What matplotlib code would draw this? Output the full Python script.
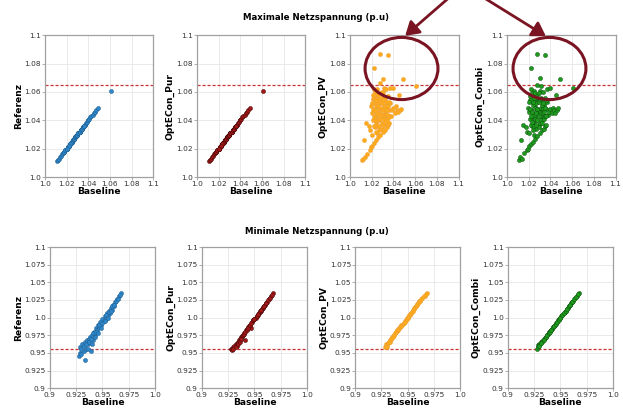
import matplotlib
matplotlib.use("Agg")
import matplotlib.pyplot as plt
from matplotlib.patches import Ellipse, FancyArrowPatch

# ---- maximale Netzspannung ----
base_max = [1.011, 1.012, 1.013, 1.014, 1.015, 1.016, 1.017, 1.018, 1.018, 1.019,
            1.019, 1.020, 1.020, 1.021, 1.021, 1.022, 1.022, 1.022, 1.022, 1.023,
            1.023, 1.023, 1.024, 1.024, 1.024, 1.024, 1.025, 1.025, 1.025, 1.025,
            1.026, 1.026, 1.026, 1.026, 1.027, 1.027, 1.027, 1.027, 1.028, 1.028,
            1.028, 1.028, 1.028, 1.029, 1.029, 1.029, 1.029, 1.030, 1.030, 1.030,
            1.030, 1.031, 1.031, 1.031, 1.032, 1.032, 1.032, 1.033, 1.033, 1.033,
            1.034, 1.034, 1.034, 1.035, 1.035, 1.035, 1.036, 1.036, 1.037, 1.037,
            1.038, 1.039, 1.040, 1.040, 1.041, 1.042, 1.043, 1.044, 1.045, 1.046,
            1.047, 1.049, 1.061,
            1.020, 1.021, 1.022, 1.022, 1.023, 1.023, 1.024, 1.024, 1.025, 1.025,
            1.025, 1.026, 1.026, 1.026, 1.027, 1.027, 1.027, 1.028, 1.028, 1.028,
            1.029, 1.029, 1.029, 1.030, 1.030, 1.030, 1.031, 1.031, 1.031, 1.032,
            1.032, 1.033, 1.033, 1.034, 1.034, 1.035, 1.035, 1.036, 1.036, 1.024,
            1.023, 1.021, 1.022, 1.020]
ref_max = [1.011, 1.012, 1.013, 1.014, 1.015, 1.016, 1.017, 1.018, 1.018, 1.019,
           1.019, 1.020, 1.020, 1.021, 1.021, 1.022, 1.022, 1.022, 1.022, 1.023,
           1.023, 1.023, 1.024, 1.024, 1.024, 1.024, 1.025, 1.025, 1.025, 1.025,
           1.026, 1.026, 1.026, 1.026, 1.027, 1.027, 1.027, 1.027, 1.028, 1.028,
           1.028, 1.028, 1.028, 1.029, 1.029, 1.029, 1.029, 1.030, 1.030, 1.030,
           1.030, 1.031, 1.031, 1.031, 1.032, 1.032, 1.032, 1.033, 1.033, 1.033,
           1.034, 1.034, 1.034, 1.035, 1.035, 1.035, 1.036, 1.036, 1.037, 1.037,
           1.038, 1.039, 1.040, 1.040, 1.041, 1.042, 1.043, 1.044, 1.045, 1.046,
           1.047, 1.049, 1.061,
           1.020, 1.021, 1.022, 1.022, 1.023, 1.023, 1.024, 1.024, 1.025, 1.025,
           1.025, 1.026, 1.026, 1.026, 1.027, 1.027, 1.027, 1.028, 1.028, 1.028,
           1.029, 1.029, 1.029, 1.030, 1.030, 1.030, 1.031, 1.031, 1.031, 1.032,
           1.032, 1.033, 1.033, 1.034, 1.034, 1.035, 1.035, 1.036, 1.036, 1.024,
           1.023, 1.021, 1.022, 1.020]
pur_max = [1.011, 1.012, 1.013, 1.014, 1.015, 1.016, 1.017, 1.018, 1.018, 1.019,
           1.019, 1.020, 1.020, 1.021, 1.021, 1.022, 1.022, 1.022, 1.022, 1.023,
           1.023, 1.023, 1.024, 1.024, 1.024, 1.024, 1.025, 1.025, 1.025, 1.025,
           1.026, 1.026, 1.026, 1.026, 1.027, 1.027, 1.027, 1.027, 1.028, 1.028,
           1.028, 1.028, 1.028, 1.029, 1.029, 1.029, 1.029, 1.030, 1.030, 1.030,
           1.030, 1.031, 1.031, 1.031, 1.032, 1.032, 1.032, 1.033, 1.033, 1.033,
           1.034, 1.034, 1.034, 1.035, 1.035, 1.035, 1.036, 1.036, 1.037, 1.037,
           1.038, 1.039, 1.040, 1.040, 1.041, 1.042, 1.043, 1.044, 1.045, 1.046,
           1.047, 1.049, 1.061,
           1.020, 1.021, 1.022, 1.022, 1.023, 1.023, 1.024, 1.024, 1.025, 1.025,
           1.025, 1.026, 1.026, 1.026, 1.027, 1.027, 1.027, 1.028, 1.028, 1.028,
           1.029, 1.029, 1.029, 1.030, 1.030, 1.030, 1.031, 1.031, 1.031, 1.032,
           1.032, 1.033, 1.033, 1.034, 1.034, 1.035, 1.035, 1.036, 1.036, 1.024,
           1.023, 1.021, 1.022, 1.020]
pv_max = [1.012, 1.013, 1.026, 1.014, 1.038, 1.016, 1.036, 1.019, 1.033, 1.021,
          1.050, 1.045, 1.022, 1.040, 1.055, 1.077, 1.024, 1.048, 1.062, 1.035,
          1.052, 1.043, 1.026, 1.058, 1.038, 1.046, 1.031, 1.050, 1.041, 1.062,
          1.028, 1.036, 1.054, 1.044, 1.048, 1.033, 1.059, 1.040, 1.087, 1.030,
          1.052, 1.066, 1.045, 1.038, 1.056, 1.034, 1.048, 1.069, 1.042, 1.032,
          1.060, 1.050, 1.037, 1.063, 1.045, 1.033, 1.055, 1.040, 1.062, 1.048,
          1.035, 1.052, 1.043, 1.086, 1.037, 1.057, 1.047, 1.038, 1.063, 1.052,
          1.043, 1.047, 1.063, 1.049, 1.045, 1.050, 1.047, 1.046, 1.058, 1.047,
          1.048, 1.069, 1.064,
          1.030, 1.047, 1.036, 1.056, 1.040, 1.060, 1.050, 1.032, 1.045, 1.055,
          1.037, 1.050, 1.058, 1.040, 1.053, 1.044, 1.036, 1.049, 1.056, 1.041,
          1.052, 1.044, 1.060, 1.047, 1.054, 1.037, 1.044, 1.057, 1.041, 1.050,
          1.039, 1.044, 1.053, 1.047, 1.040, 1.050, 1.044, 1.053, 1.042, 1.054,
          1.047, 1.058, 1.042, 1.052]
combi_max = [1.012, 1.014, 1.026, 1.013, 1.037, 1.017, 1.035, 1.019, 1.032, 1.020,
             1.049, 1.046, 1.022, 1.041, 1.054, 1.077, 1.023, 1.047, 1.062, 1.036,
             1.053, 1.042, 1.025, 1.057, 1.039, 1.045, 1.030, 1.051, 1.042, 1.061,
             1.027, 1.037, 1.055, 1.043, 1.049, 1.034, 1.058, 1.040, 1.087, 1.029,
             1.053, 1.065, 1.046, 1.037, 1.055, 1.035, 1.047, 1.070, 1.043, 1.031,
             1.061, 1.049, 1.038, 1.064, 1.046, 1.033, 1.054, 1.041, 1.060, 1.049,
             1.034, 1.051, 1.042, 1.086, 1.036, 1.056, 1.048, 1.037, 1.062, 1.053,
             1.044, 1.046, 1.063, 1.048, 1.045, 1.049, 1.047, 1.045, 1.058, 1.047,
             1.049, 1.069, 1.063,
             1.031, 1.048, 1.037, 1.055, 1.039, 1.059, 1.051, 1.033, 1.044, 1.056,
             1.036, 1.049, 1.059, 1.041, 1.052, 1.045, 1.037, 1.048, 1.057, 1.040,
             1.053, 1.043, 1.059, 1.046, 1.055, 1.038, 1.045, 1.056, 1.040, 1.051,
             1.038, 1.045, 1.052, 1.046, 1.041, 1.049, 1.043, 1.054, 1.043, 1.053,
             1.046, 1.057, 1.043, 1.053]

# ---- minimale Netzspannung ----
base_min = [0.928, 0.929, 0.929, 0.930, 0.931, 0.932, 0.933, 0.933, 0.934, 0.935,
            0.936, 0.937, 0.938, 0.939, 0.940, 0.941, 0.942, 0.943, 0.944, 0.945,
            0.946, 0.947, 0.948, 0.949, 0.950, 0.951, 0.952, 0.953, 0.954, 0.955,
            0.956, 0.957, 0.958, 0.959, 0.960, 0.961, 0.962, 0.964, 0.966, 0.968,
            0.930, 0.932, 0.934, 0.936, 0.937, 0.939, 0.940, 0.941, 0.943, 0.944,
            0.946, 0.947, 0.949, 0.950, 0.952, 0.953, 0.955, 0.956, 0.958, 0.959,
            0.961, 0.963, 0.965, 0.967]
ref_min = [0.945, 0.958, 0.950, 0.955, 0.962, 0.952, 0.940, 0.966, 0.956, 0.968,
           0.962, 0.970, 0.972, 0.952, 0.975, 0.968, 0.980, 0.976, 0.985, 0.982,
           0.990, 0.986, 0.994, 0.990, 0.998, 0.995, 1.002, 0.998, 1.006, 1.003,
           1.010, 1.006, 1.014, 1.011, 1.018, 1.016, 1.022, 1.026, 1.030, 1.035,
           0.948, 0.960, 0.962, 0.955, 0.965, 0.970, 0.962, 0.978, 0.972, 0.980,
           0.978, 0.990, 0.985, 0.993, 0.995, 1.003, 1.000, 1.008, 1.010, 1.016,
           1.018, 1.024, 1.027, 1.032]
pur_min = [0.955, 0.956, 0.954, 0.958, 0.960, 0.962, 0.963, 0.960, 0.966, 0.968,
           0.970, 0.972, 0.974, 0.976, 0.978, 0.968, 0.982, 0.984, 0.986, 0.988,
           0.990, 0.985, 0.994, 0.996, 0.998, 1.000, 1.002, 1.004, 1.006, 1.008,
           1.010, 1.012, 1.014, 1.016, 1.018, 1.020, 1.022, 1.026, 1.030, 1.035,
           0.955, 0.958, 0.962, 0.966, 0.970, 0.975, 0.977, 0.980, 0.983, 0.985,
           0.989, 0.992, 0.996, 0.998, 1.002, 1.005, 1.009, 1.011, 1.015, 1.017,
           1.021, 1.025, 1.028, 1.032]
pv_min = [0.958, 0.960, 0.962, 0.961, 0.964, 0.966, 0.968, 0.966, 0.970, 0.972,
          0.974, 0.975, 0.978, 0.980, 0.981, 0.983, 0.985, 0.987, 0.989, 0.990,
          0.992, 0.995, 0.996, 0.999, 1.000, 1.003, 1.004, 1.007, 1.008, 1.011,
          1.012, 1.015, 1.016, 1.019, 1.020, 1.023, 1.024, 1.028, 1.031, 1.035,
          0.959, 0.965, 0.969, 0.973, 0.975, 0.979, 0.982, 0.984, 0.986, 0.988,
          0.992, 0.994, 0.998, 1.001, 1.005, 1.006, 1.010, 1.013, 1.017, 1.018,
          1.022, 1.026, 1.030, 1.033]
combi_min = [0.956, 0.958, 0.961, 0.962, 0.963, 0.966, 0.967, 0.965, 0.969, 0.971,
             0.973, 0.975, 0.977, 0.979, 0.981, 0.982, 0.984, 0.986, 0.988, 0.990,
             0.992, 0.994, 0.996, 0.998, 1.000, 1.002, 1.004, 1.006, 1.008, 1.010,
             1.012, 1.014, 1.016, 1.018, 1.020, 1.022, 1.024, 1.028, 1.031, 1.035,
             0.960, 0.964, 0.968, 0.972, 0.976, 0.978, 0.980, 0.983, 0.986, 0.988,
             0.991, 0.994, 0.997, 1.000, 1.004, 1.006, 1.010, 1.012, 1.016, 1.018,
             1.022, 1.026, 1.029, 1.033]

ylabels = ["Referenz", "OptECon_Pur", "OptECon_PV", "OptECon_Combi"]
colors = ["#2e86c8", "#a01818", "#ffaa1a", "#1e9a1e"]
edges = ["#1d5a8a", "#3a0505", "#e8a040", "#0c4a0c"]

max_series = [ref_max, pur_max, pv_max, combi_max]
min_series = [ref_min, pur_min, pv_min, combi_min]

max_ticks = [1.0, 1.02, 1.04, 1.06, 1.08, 1.1]
max_labels = ["1.0", "1.02", "1.04", "1.06", "1.08", "1.1"]
min_yticks = [0.9, 0.925, 0.95, 0.975, 1.0, 1.025, 1.05, 1.075, 1.1]
min_ylabels = ["0.9", "0.925", "0.95", "0.975", "1.0", "1.025", "1.05", "1.075", "1.1"]
min_xticks = [0.9, 0.925, 0.95, 0.975, 1.0]
min_xlabels = ["0.9", "0.925", "0.95", "0.975", "1.0"]

limit_max = 1.065
limit_min = 0.955

fig = plt.figure(figsize=(6.23, 4.09), dpi=100)

top_lefts = [0.072, 0.316, 0.562, 0.814]
bot_lefts = [0.080, 0.324, 0.570, 0.815]


def style(ax):
    ax.grid(True, color="#e6e6e6", lw=0.6)
    ax.set_axisbelow(True)
    for s in ax.spines.values():
        s.set_color("#a0a0a0")
        s.set_linewidth(0.9)
    ax.tick_params(labelsize=5.3, colors="#a0a0a0", labelcolor="#333333",
                   length=2, width=0.6, pad=1)


for i in range(4):
    ax = fig.add_axes([top_lefts[i], 0.567, 0.174, 0.347])
    ax.scatter(base_max, max_series[i], s=9, c=colors[i], edgecolors=edges[i],
               linewidths=0.3, zorder=3)
    ax.axhline(limit_max, color="#cc3333", ls=(0, (2.5, 1.5)), lw=0.9, zorder=2)
    ax.set_xlim(1.0, 1.1)
    ax.set_ylim(1.0, 1.1)
    ax.set_xticks(max_ticks)
    ax.set_xticklabels(max_labels)
    ax.set_yticks(max_ticks)
    ax.set_yticklabels(max_labels)
    ax.set_xlabel("Baseline", fontsize=6.6, fontweight="bold", labelpad=0)
    ax.set_ylabel(ylabels[i], fontsize=6.6, fontweight="bold", labelpad=1)
    style(ax)

    ax = fig.add_axes([bot_lefts[i], 0.051, 0.169, 0.345])
    ax.scatter(base_min, min_series[i], s=9, c=colors[i], edgecolors=edges[i],
               linewidths=0.3, zorder=3)
    ax.axhline(limit_min, color="#cc3333", ls=(0, (2.5, 1.5)), lw=0.9, zorder=2)
    ax.set_xlim(0.9, 1.0)
    ax.set_ylim(0.9, 1.1)
    ax.set_xticks(min_xticks)
    ax.set_xticklabels(min_xlabels)
    ax.set_yticks(min_yticks)
    ax.set_yticklabels(min_ylabels)
    ax.set_xlabel("Baseline", fontsize=6.6, fontweight="bold", labelpad=0)
    ax.set_ylabel(ylabels[i], fontsize=6.6, fontweight="bold", labelpad=1)
    style(ax)

fig.text(0.508, 0.956, "Maximale Netzspannung (p.u)", ha="center", va="center",
         fontsize=6.2, fontweight="bold")
fig.text(0.508, 0.435, "Minimale Netzspannung (p.u)", ha="center", va="center",
         fontsize=6.2, fontweight="bold")

# highlight circles and arrows
mark = "#7a1422"
for cx in [0.6445, 0.882]:
    fig.add_artist(Ellipse((cx, 0.8325), 0.117, 0.152, transform=fig.transFigure,
                           fill=False, ec=mark, lw=2.2, zorder=10))
for (x0, x1) in [(0.724, 0.647), (0.772, 0.880)]:
    fig.add_artist(FancyArrowPatch((x0, 1.01), (x1, 0.908), transform=fig.transFigure,
                                   arrowstyle="-|>,head_length=8,head_width=5",
                                   color=mark, lw=2.0, zorder=10))

fig.savefig("out.png", dpi=100)
